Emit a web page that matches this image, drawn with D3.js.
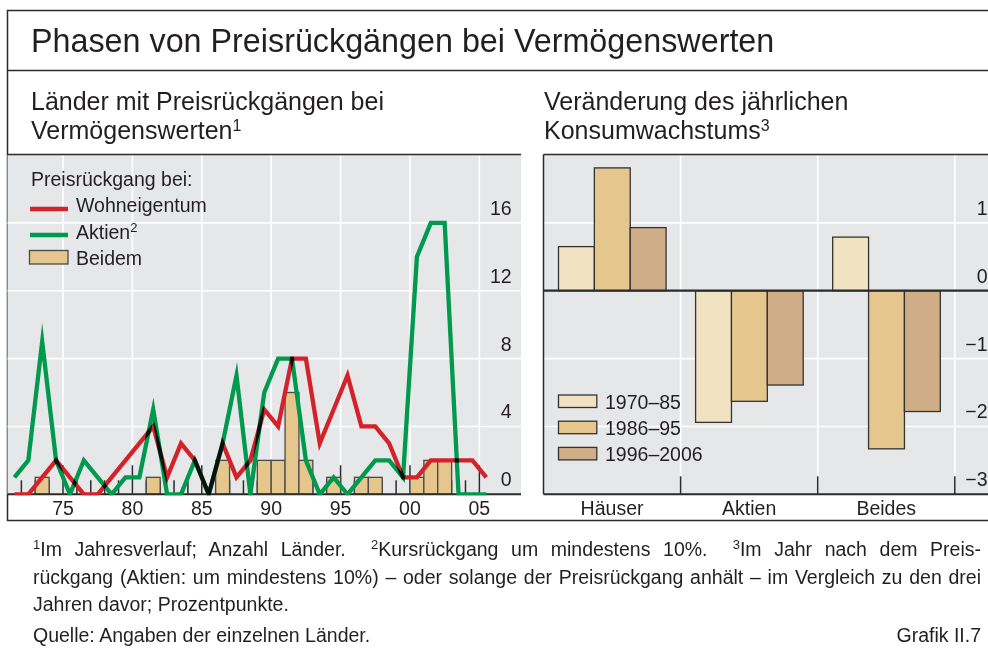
<!DOCTYPE html>
<html><head><meta charset="utf-8">
<script src="https://cdn.jsdelivr.net/npm/d3@7"></script>
<style>
body{margin:0;background:#fff;}
svg{display:block;font-family:"Liberation Sans",Arial,Helvetica,sans-serif;}
text{fill:#231f20;}
</style></head><body>
<svg id="c" width="988" height="648"></svg>
<script>
// ---------- data ----------
const years = [1971,1972,1973,1974,1975,1976,1977,1978,1979,1980,1981,1982,1983,1984,1985,1986,1987,1988,1989,1990,1991,1992,1993,1994,1995,1996,1997,1998,1999,2000,2001,2002,2003,2004,2005];
const wohneigentum = [0,0,1,2,1,0,0,1,2,3,4,1,3,2,0,3,1,2,5,4,8,8,3,5,7,4,4,3,1,1,2,2,2,2,1];
const aktien       = [1,2,9,2,0,2,1,0,1,1,5,0,0,2,0,3,7,0,6,8,8,2,0,1,0,1,2,2,1,14,16,16,0,0,0];
const beidem       = [0,0,1,0,0,0,0,0,0,0,1,0,0,0,0,2,0,0,2,2,6,2,0,1,0,1,1,0,0,1,2,2,0,0,0];
const leftTicks = [0,4,8,12,16];
const yearTicks = [1975,1980,1985,1990,1995,2000,2005];
const yearLabels = ["75","80","85","90","95","00","05"];

const categories = ["Häuser","Aktien","Beides"];
const periods = ["1970–85","1986–95","1996–2006"];
const p1970_85   = [0.65,-1.94,0.79];
const p1986_95   = [1.81,-1.63,-2.33];
const p1996_2006 = [0.93,-1.39,-1.78];
const rightTicks = [1,0,-1,-2,-3];
const rightTickLabels = ["1","0","−1","−2","−3"];

// ---------- styles ----------
const BG = "#e6e7e9", DARK = "#2b2b2b", RED = "#d2232a", GREEN = "#00994d";
const TAN = "#e5c78d", PCOL = ["#f1e3c1","#e5c78d","#cfad86"];
const FS = 19.5;

const svg = d3.select("#c");
svg.append("defs").append("clipPath").attr("id","lclip")
  .append("rect").attr("x",7.5).attr("y",150).attr("width",514).attr("height",345.3);

// outer frame
svg.append("rect").attr("x",7.5).attr("y",10.5).attr("width",1000).attr("height",510)
  .attr("fill","none").attr("stroke",DARK).attr("stroke-width",1.5);
svg.append("line").attr("x1",7.5).attr("x2",988).attr("y1",70.5).attr("y2",70.5)
  .attr("stroke",DARK).attr("stroke-width",1.5);

svg.append("text").attr("x",31).attr("y",52).attr("font-size",32.3)
  .text("Phasen von Preisrückgängen bei Vermögenswerten");

// subtitles
svg.append("text").attr("x",31).attr("y",110).attr("font-size",25).text("Länder mit Preisrückgängen bei");
const st1b = svg.append("text").attr("x",31).attr("y",139).attr("font-size",25);
st1b.append("tspan").text("Vermögenswerten");
st1b.append("tspan").attr("font-size",16).attr("dy",-8).text("1");

svg.append("text").attr("x",544).attr("y",110).attr("font-size",25).text("Veränderung des jährlichen");
const st2b = svg.append("text").attr("x",544).attr("y",139).attr("font-size",25);
st2b.append("tspan").text("Konsumwachstums");
st2b.append("tspan").attr("font-size",16).attr("dy",-8).text("3");

// ---------- left panel ----------
const L = {x0:7.5, x1:521, y0:155, y1:494.3};
const x = d3.scaleLinear().domain([1971,2008]).range([L.x0,L.x1]);
const y = d3.scaleLinear().domain([0,20]).range([L.y1,L.y0]);

const gl = svg.append("g");
gl.append("rect").attr("x",L.x0).attr("y",L.y0).attr("width",L.x1-L.x0).attr("height",L.y1-L.y0).attr("fill",BG);
gl.selectAll(".hg").data(leftTicks.filter(d=>d>0)).join("line")
  .attr("x1",L.x0).attr("x2",L.x1).attr("y1",d=>y(d)).attr("y2",d=>y(d))
  .attr("stroke","#fff").attr("stroke-width",1.6);
gl.selectAll(".vg").data(yearTicks).join("line")
  .attr("x1",d=>x(d)).attr("x2",d=>x(d)).attr("y1",L.y0).attr("y2",L.y1)
  .attr("stroke","#fff").attr("stroke-width",1.6);
// year ticks (inside, upward)
gl.selectAll(".yt").data(years.slice(1)).join("line")
  .attr("x1",d=>x(d)).attr("x2",d=>x(d))
  .attr("y1",L.y1).attr("y2",d=> L.y1 - (d%5===0 ? 29 : 14))
  .attr("stroke",DARK).attr("stroke-width",1.5);
// bars
gl.selectAll(".bar").data(years.map((yr,i)=>({yr,v:beidem[i]})).filter(d=>d.v>0)).join("rect")
  .attr("x",d=>x(d.yr)).attr("width",d=>x(d.yr+1)-x(d.yr))
  .attr("y",d=>y(d.v)).attr("height",d=>y(0)-y(d.v))
  .attr("fill",TAN).attr("stroke","#4a4a4a").attr("stroke-width",1.3);
// baseline
gl.append("line").attr("x1",L.x0).attr("x2",L.x1).attr("y1",L.y1).attr("y2",L.y1)
  .attr("stroke",DARK).attr("stroke-width",2);
// lines
const line = d3.line().x((d,i)=>x(years[i]+0.5)).y(d=>y(d));
const lg = gl.append("g").attr("clip-path","url(#lclip)").style("isolation","isolate");
[[aktien,GREEN],[wohneigentum,RED]].forEach(([arr,col])=>{
  lg.append("path").attr("d",line(arr)).attr("fill","none").attr("stroke",col)
    .attr("stroke-width",4.3).attr("stroke-linejoin","miter").attr("stroke-miterlimit",12)
    .style("mix-blend-mode","multiply");
});
// top border
gl.append("line").attr("x1",L.x0).attr("x2",L.x1).attr("y1",154.5).attr("y2",154.5)
  .attr("stroke",DARK).attr("stroke-width",1.5);
// y labels
gl.selectAll(".yl").data(leftTicks).join("text")
  .attr("x",511.7).attr("y",d=>y(d)-8).attr("text-anchor","end").attr("font-size",FS).text(d=>d);
// x labels
gl.selectAll(".xl").data(yearTicks).join("text")
  .attr("x",d=>x(d)).attr("y",515).attr("text-anchor","middle").attr("font-size",FS)
  .text((d,i)=>yearLabels[i]);
// legend
gl.append("text").attr("x",31).attr("y",186).attr("font-size",FS).text("Preisrückgang bei:");
gl.append("line").attr("x1",30).attr("x2",68).attr("y1",209).attr("y2",209).attr("stroke",RED).attr("stroke-width",4.3);
gl.append("text").attr("x",76).attr("y",212).attr("font-size",FS).text("Wohneigentum");
gl.append("line").attr("x1",30).attr("x2",68).attr("y1",235).attr("y2",235).attr("stroke",GREEN).attr("stroke-width",4.3);
const la = gl.append("text").attr("x",76).attr("y",238.5).attr("font-size",FS);
la.append("tspan").text("Aktien");
la.append("tspan").attr("font-size",13).attr("dy",-7).text("2");
gl.append("rect").attr("x",29.5).attr("y",250.5).attr("width",38.5).attr("height",13.5)
  .attr("fill",TAN).attr("stroke","#4a4a4a").attr("stroke-width",1.3);
gl.append("text").attr("x",76).attr("y",264.5).attr("font-size",FS).text("Beidem");

// ---------- right panel ----------
const R = {x0:543.5, x1:990, y0:155, y1:494.3};
const yr = d3.scaleLinear().domain([-3,2]).range([R.y1,R.y0]);
const xb = d3.scaleBand().domain(categories).range([R.x0, R.x0+3*137.1]);
const xs = d3.scaleBand().domain(periods).range([15, 122.6]);
const series = [p1970_85,p1986_95,p1996_2006];

const gr = svg.append("g");
gr.append("rect").attr("x",R.x0).attr("y",R.y0).attr("width",R.x1-R.x0).attr("height",R.y1-R.y0).attr("fill",BG);
gr.selectAll(".hg").data(rightTicks.filter(d=>d!==0 && d!==-3)).join("line")
  .attr("x1",R.x0).attr("x2",R.x1).attr("y1",d=>yr(d)).attr("y2",d=>yr(d))
  .attr("stroke","#fff").attr("stroke-width",1.6);
gr.selectAll(".vg").data(categories).join("line")
  .attr("x1",d=>xb(d)+xb.bandwidth()).attr("x2",d=>xb(d)+xb.bandwidth())
  .attr("y1",R.y0).attr("y2",R.y1).attr("stroke","#fff").attr("stroke-width",1.6);
gr.selectAll(".vt").data(categories).join("line")
  .attr("x1",d=>xb(d)+xb.bandwidth()).attr("x2",d=>xb(d)+xb.bandwidth())
  .attr("y1",R.y1).attr("y2",R.y1-18).attr("stroke",DARK).attr("stroke-width",1.5);
// bars
const bdata = [];
categories.forEach((c,i)=>periods.forEach((p,j)=>bdata.push({c,p,j,v:series[j][i]})));
gr.selectAll(".rb").data(bdata).join("rect")
  .attr("x",d=>xb(d.c)+xs(d.p)).attr("width",xs.bandwidth())
  .attr("y",d=>yr(Math.max(0,d.v))).attr("height",d=>Math.abs(yr(d.v)-yr(0)))
  .attr("fill",d=>PCOL[d.j]).attr("stroke","#333").attr("stroke-width",1.3);
// zero line, borders
gr.append("line").attr("x1",R.x0).attr("x2",R.x1).attr("y1",yr(0)).attr("y2",yr(0))
  .attr("stroke",DARK).attr("stroke-width",2.2);
gr.append("line").attr("x1",R.x0).attr("x2",R.x1).attr("y1",R.y1).attr("y2",R.y1)
  .attr("stroke",DARK).attr("stroke-width",2);
gr.append("line").attr("x1",R.x0).attr("x2",R.x1).attr("y1",154.5).attr("y2",154.5)
  .attr("stroke",DARK).attr("stroke-width",1.5);
gr.append("line").attr("x1",R.x0).attr("x2",R.x0).attr("y1",154.5).attr("y2",R.y1)
  .attr("stroke",DARK).attr("stroke-width",1.5);
// y labels
gr.selectAll(".yl").data(rightTicks).join("text")
  .attr("x",987.5).attr("y",d=>yr(d)-8).attr("text-anchor","end").attr("font-size",FS)
  .text((d,i)=>rightTickLabels[i]);
// category labels
gr.selectAll(".cl").data(categories).join("text")
  .attr("x",d=>xb(d)+xb.bandwidth()/2).attr("y",515).attr("text-anchor","middle")
  .attr("font-size",FS).text(d=>d);
// legend
gr.selectAll(".lr").data(periods).join("rect")
  .attr("x",558.5).attr("y",(d,i)=>395+i*26.2).attr("width",38.3).attr("height",12.5)
  .attr("fill",(d,i)=>PCOL[i]).attr("stroke","#333").attr("stroke-width",1.3);
gr.selectAll(".lt").data(periods).join("text")
  .attr("x",605).attr("y",(d,i)=>408.5+i*26.2).attr("font-size",FS).text(d=>d);

// ---------- footnotes ----------
const fn = svg.append("g");
function justify(t, width){
  const s = t.text(); const n = (s.match(/ /g)||[]).length;
  const len = t.node().getComputedTextLength();
  if(n>0 && len<width) t.attr("word-spacing", (width-len)/n);
}
const f1 = fn.append("text").attr("x",33).attr("y",556).attr("font-size",FS);
f1.append("tspan").attr("font-size",13).attr("dy",-7).text("1");
f1.append("tspan").attr("dy",7).text("Im Jahresverlauf; Anzahl Länder.  ");
f1.append("tspan").attr("font-size",13).attr("dy",-7).text("2");
f1.append("tspan").attr("dy",7).text("Kursrückgang um mindestens 10%.  ");
f1.append("tspan").attr("font-size",13).attr("dy",-7).text("3");
f1.append("tspan").attr("dy",7).text("Im Jahr nach dem Preis-");
f1.attr("xml:space","preserve");
justify(f1, 948);
const f2 = fn.append("text").attr("x",33).attr("y",584).attr("font-size",FS)
  .text("rückgang (Aktien: um mindestens 10%) – oder solange der Preisrückgang anhält – im Vergleich zu den drei");
justify(f2, 948);
fn.append("text").attr("x",33).attr("y",611).attr("font-size",FS).text("Jahren davor; Prozentpunkte.");
fn.append("text").attr("x",33).attr("y",642).attr("font-size",FS).text("Quelle: Angaben der einzelnen Länder.");
fn.append("text").attr("x",981).attr("y",642).attr("font-size",FS).attr("text-anchor","end").text("Grafik II.7");
</script>
</body></html>
